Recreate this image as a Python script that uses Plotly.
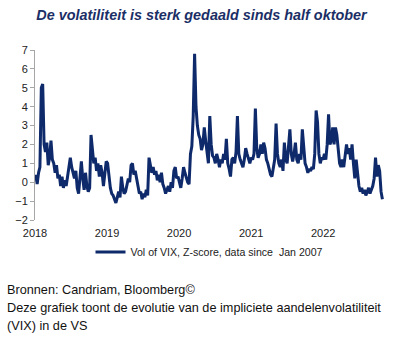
import pandas as pd
import plotly.graph_objects as go

# Weekly readings (Fridays) of the Vol-of-VIX Z-score
vix_2018 = [0.4, -0.1, 0.5, 0.8,
            5.0, 5.2, 2.0, 1.6,
            2.1, 0.9, 1.3, 2.2, 1.2,
            1.0, 0.5, 0.9, 0.2,
            0.4, -0.2, 0.3, -0.3,
            0.1, -0.2, 0.3, 0.9, 1.3,
            0.8, 0.5, 0.2, 0.6,
            -0.3, -0.6, 0.4, 1.1, 0.2,
            -0.4, 0.5, -0.2, -0.5,
            -0.3, 2.5, 1.5, 1.0, 1.3,
            0.6, 1.0, 0.3, 0.9,
            0.5, -0.2, 0.4, 1.1]
vix_2019 = [1.0, 0.3, -0.3, -0.6,
            -0.7, -0.9, -1.1, -0.8,
            -0.5, -0.8, 0.3, -0.3, -0.6,
            -0.5, -0.2, 0.2, 0.0,
            0.9, 1.0, 0.4, 0.6, 0.2,
            -0.3, -0.6, -0.5, -0.9,
            -0.6, -0.8, -0.4, -0.7,
            1.3, 0.9, 0.5, 0.8, 0.4,
            0.6, 0.1, 0.4, 0.0,
            0.5, -0.1, -0.3, -0.6, -0.4,
            -0.2, -0.5, 0.0, -0.3,
            0.6, 0.8, 0.2, 0.3]
vix_2020 = [0.0, -0.3, 0.2, 0.8, 0.5,
            0.2, 0.0, -0.1, 1.5,
            1.9, 3.5, 6.8, 4.0,
            3.0, 2.5, 2.3, 1.7,
            2.0, 2.9, 2.2, 1.5, 1.0,
            3.5, 2.0, 1.4, 1.3,
            1.0, 1.5, 1.2, 0.8, 1.2,
            1.0, 1.5, 1.2, 2.3,
            1.0, 0.7, 0.3, 1.2,
            1.3, 1.0, 1.6, 3.5, 1.5,
            1.2, 1.0, 0.8, 1.2,
            1.8, 1.5, 1.3, 1.0]
vix_2021 = [1.3, 1.2, 1.5, 3.9,
            1.8, 1.3, 1.5, 2.0,
            1.5, 2.1, 1.8, 1.2, 1.0,
            0.7, 0.4, 0.3, 0.8,
            1.2, 3.1, 1.5, 1.0,
            0.8, 1.2, 0.6, 2.1, 1.2,
            1.0, 2.0, 2.8, 1.5,
            1.1, 1.5, 2.1, 1.2, 1.0,
            1.5, 1.2, 2.8, 1.8,
            1.0, 0.8, 0.5, 0.7, 0.6,
            0.8, 0.7, 1.5, 3.8,
            3.2, 1.5, 1.0, 1.3, 1.2]
vix_2022 = [1.5, 1.2, 2.0, 3.6,
            2.0, 2.2, 2.9, 2.0,
            2.9, 2.5, 1.5, 1.0, 0.8,
            1.2, 0.8, 1.3, 2.0,
            1.5, 1.8, 1.2, 2.0,
            1.0, 0.2, 1.2, 0.3,
            -0.2, -0.5, -0.3, -0.6, -0.4,
            -0.7, -0.5, -0.3, -0.6,
            -0.4, -0.2, 0.2, 1.3, 0.3,
            0.9, 0.6, -0.5, -0.9]

values = vix_2018 + vix_2019 + vix_2020 + vix_2021 + vix_2022
dates = pd.date_range("2018-01-05", periods=len(values), freq="W-FRI")

year_ticks = ["2018-01-01", "2019-01-01", "2020-01-01", "2021-01-01", "2022-01-01"]
year_labels = ["2018", "2019", "2020", "2021", "2022"]
y_ticks = [-2, -1, 0, 1, 2, 3, 4, 5, 6, 7]

title_text = "De volatiliteit is sterk gedaald sinds half oktober"
legend_text = "Vol of VIX, Z-score, data since\u00a0 Jan 2007"
footer_lines = ["Bronnen: Candriam, Bloomberg©",
                "Deze grafiek toont de evolutie van de impliciete aandelenvolatiliteit",
                "(VIX) in de VS"]

W, H = 403, 339
L, R, T, B = 35, 19, 50, 119
pw, ph = W - L - R, H - T - B
FONT = "Liberation Sans, Arial, sans-serif"
NAVY = "#0e2a6b"
GREY = "#a6a6a6"
x_range = ["2018-01-01", "2022-11-05"]

fig = go.Figure()
fig.add_trace(go.Scatter(x=dates, y=values, mode="lines",
                         line=dict(color=NAVY, width=3),
                         name=legend_text))

fig.update_layout(
    width=W, height=H,
    margin=dict(l=L, r=R, t=T, b=B),
    paper_bgcolor="white", plot_bgcolor="white",
    font=dict(family=FONT, size=11, color="#222"),
    title=dict(text="<b><i>" + title_text + "</i></b>",
               x=0.5, xref="container", xanchor="center",
               y=1 - 15 / H, yref="container", yanchor="middle",
               font=dict(family=FONT, size=14.4, color="#1b2f66")),
    showlegend=True,
    legend=dict(orientation="h", x=0.5, xanchor="center",
                y=-(252 - (T + ph)) / ph, yanchor="middle",
                font=dict(family=FONT, size=10.6, color="#222"),
                bgcolor="rgba(0,0,0,0)", itemwidth=30),
    xaxis=dict(type="date", range=x_range, showgrid=False, zeroline=False,
               showline=False, tickvals=year_ticks, ticktext=year_labels,
               ticks="outside", ticklen=3, tickcolor="rgba(0,0,0,0)",
               tickfont=dict(family=FONT, size=11, color="#222")),
    xaxis2=dict(type="date", range=x_range, overlaying="x", anchor="free",
                position=2 / 9, showgrid=False, zeroline=False,
                showline=True, linecolor=GREY, linewidth=1,
                tickvals=year_ticks, ticks="outside", ticklen=3,
                tickcolor=GREY, showticklabels=False),
    yaxis=dict(range=[-2, 7], tickvals=y_ticks, showgrid=False,
               zeroline=False, showline=True, linecolor=GREY, linewidth=1,
               ticks="outside", ticklen=4, tickcolor=GREY,
               tickfont=dict(family=FONT, size=11, color="#222")),
)

for i, (line, ypix) in enumerate(zip(footer_lines, [290, 308, 326])):
    fig.add_annotation(text=line, xref="paper", yref="paper",
                       x=(5 - L) / pw, y=(T + ph - ypix) / ph,
                       xanchor="left", yanchor="middle", showarrow=False,
                       font=dict(family=FONT, size=12.7, color="#111"))

fig.write_html("out.html")
